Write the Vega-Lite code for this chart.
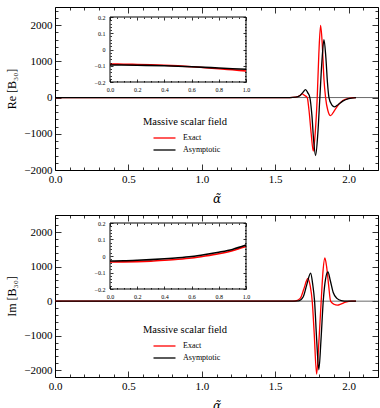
{
  "$schema": "https://vega.github.io/schema/vega-lite/v6.json",
  "padding": {"left": 5, "top": 4, "right": 0, "bottom": 0},
  "spacing": 6,
  "config": {
    "font": "Liberation Serif",
    "view": {"stroke": "#000", "strokeWidth": 1},
    "axis": {"domain": false, "grid": false, "labelFont": "Liberation Serif", "titleFont": "Liberation Serif", "labelColor": "#000", "titleColor": "#000", "tickColor": "#000", "titleFontWeight": "normal", "labelFontSize": 11, "tickWidth": 0.8, "labelOverlap": false, "labelFlush": false},
    "legend": {"orient": "none", "legendX": 88, "legendY": 110, "padding": 0, "titleFont": "Liberation Serif", "titleFontSize": 10.5, "titleFontWeight": "normal", "titleColor": "#000", "titlePadding": 4, "labelFont": "Liberation Serif", "labelFontSize": 8, "labelColor": "#000", "symbolType": "M-2,0H2", "symbolSize": 121, "symbolStrokeWidth": 1.3, "symbolOffset": 15, "labelOffset": 12, "rowPadding": 1}
  },
  "resolve": {"scale": {"color": "independent"}},
  "datasets": {
    "re_main": [
      {"a": 0, "v": 0, "s": "Exact"}, {"a": 1.6, "v": 0, "s": "Exact"}, {"a": 1.64, "v": 10, "s": "Exact"}, {"a": 1.665, "v": 50, "s": "Exact"}, {"a": 1.684, "v": 100, "s": "Exact"}, {"a": 1.7, "v": 60, "s": "Exact"}, {"a": 1.718, "v": 0, "s": "Exact"}, {"a": 1.73, "v": -350, "s": "Exact"}, {"a": 1.745, "v": -1000, "s": "Exact"}, {"a": 1.759, "v": -1480, "s": "Exact"}, {"a": 1.772, "v": -1000, "s": "Exact"}, {"a": 1.786, "v": 0, "s": "Exact"}, {"a": 1.797, "v": 1200, "s": "Exact"}, {"a": 1.809, "v": 1990, "s": "Exact"}, {"a": 1.82, "v": 1500, "s": "Exact"}, {"a": 1.832, "v": 500, "s": "Exact"}, {"a": 1.843, "v": 0, "s": "Exact"}, {"a": 1.858, "v": -350, "s": "Exact"}, {"a": 1.877, "v": -500, "s": "Exact"}, {"a": 1.9, "v": -380, "s": "Exact"}, {"a": 1.93, "v": -200, "s": "Exact"}, {"a": 1.96, "v": -80, "s": "Exact"}, {"a": 2.0, "v": -20, "s": "Exact"}, {"a": 2.05, "v": 0, "s": "Exact"},
      {"a": 0, "v": 0, "s": "Asymptotic"}, {"a": 1.6, "v": 0, "s": "Asymptotic"}, {"a": 1.64, "v": 10, "s": "Asymptotic"}, {"a": 1.67, "v": 60, "s": "Asymptotic"}, {"a": 1.69, "v": 150, "s": "Asymptotic"}, {"a": 1.706, "v": 220, "s": "Asymptotic"}, {"a": 1.722, "v": 130, "s": "Asymptotic"}, {"a": 1.736, "v": 0, "s": "Asymptotic"}, {"a": 1.75, "v": -500, "s": "Asymptotic"}, {"a": 1.762, "v": -1200, "s": "Asymptotic"}, {"a": 1.775, "v": -1600, "s": "Asymptotic"}, {"a": 1.79, "v": -1000, "s": "Asymptotic"}, {"a": 1.804, "v": 0, "s": "Asymptotic"}, {"a": 1.818, "v": 1000, "s": "Asymptotic"}, {"a": 1.832, "v": 1600, "s": "Asymptotic"}, {"a": 1.845, "v": 1100, "s": "Asymptotic"}, {"a": 1.856, "v": 400, "s": "Asymptotic"}, {"a": 1.866, "v": 0, "s": "Asymptotic"}, {"a": 1.885, "v": -200, "s": "Asymptotic"}, {"a": 1.905, "v": -255, "s": "Asymptotic"}, {"a": 1.93, "v": -190, "s": "Asymptotic"}, {"a": 1.96, "v": -100, "s": "Asymptotic"}, {"a": 2.0, "v": -30, "s": "Asymptotic"}, {"a": 2.05, "v": 0, "s": "Asymptotic"}
    ],
    "im_main": [
      {"a": 0, "v": 0, "s": "Exact"}, {"a": 1.6, "v": 0, "s": "Exact"}, {"a": 1.64, "v": 10, "s": "Exact"}, {"a": 1.67, "v": 80, "s": "Exact"}, {"a": 1.695, "v": 350, "s": "Exact"}, {"a": 1.722, "v": 658, "s": "Exact"}, {"a": 1.738, "v": 450, "s": "Exact"}, {"a": 1.752, "v": 0, "s": "Exact"}, {"a": 1.765, "v": -900, "s": "Exact"}, {"a": 1.782, "v": -2116, "s": "Exact"}, {"a": 1.797, "v": -1200, "s": "Exact"}, {"a": 1.813, "v": 0, "s": "Exact"}, {"a": 1.826, "v": 900, "s": "Exact"}, {"a": 1.838, "v": 1255, "s": "Exact"}, {"a": 1.85, "v": 1000, "s": "Exact"}, {"a": 1.864, "v": 450, "s": "Exact"}, {"a": 1.877, "v": 0, "s": "Exact"}, {"a": 1.9, "v": -90, "s": "Exact"}, {"a": 1.923, "v": -116, "s": "Exact"}, {"a": 1.95, "v": -80, "s": "Exact"}, {"a": 1.98, "v": -30, "s": "Exact"}, {"a": 2.02, "v": 0, "s": "Exact"}, {"a": 2.05, "v": 0, "s": "Exact"},
      {"a": 0, "v": 0, "s": "Asymptotic"}, {"a": 1.6, "v": 0, "s": "Asymptotic"}, {"a": 1.66, "v": 10, "s": "Asymptotic"}, {"a": 1.69, "v": 120, "s": "Asymptotic"}, {"a": 1.715, "v": 480, "s": "Asymptotic"}, {"a": 1.741, "v": 815, "s": "Asymptotic"}, {"a": 1.755, "v": 500, "s": "Asymptotic"}, {"a": 1.768, "v": 0, "s": "Asymptotic"}, {"a": 1.782, "v": -1100, "s": "Asymptotic"}, {"a": 1.797, "v": -1990, "s": "Asymptotic"}, {"a": 1.812, "v": -1100, "s": "Asymptotic"}, {"a": 1.827, "v": 0, "s": "Asymptotic"}, {"a": 1.843, "v": 650, "s": "Asymptotic"}, {"a": 1.859, "v": 850, "s": "Asymptotic"}, {"a": 1.875, "v": 600, "s": "Asymptotic"}, {"a": 1.895, "v": 250, "s": "Asymptotic"}, {"a": 1.92, "v": 80, "s": "Asymptotic"}, {"a": 1.95, "v": 15, "s": "Asymptotic"}, {"a": 1.99, "v": 0, "s": "Asymptotic"}, {"a": 2.05, "v": 0, "s": "Asymptotic"}
    ],
    "re_inset": [
      {"a": 0, "v": -0.09, "s": "Exact"}, {"a": 0.1, "v": -0.0905, "s": "Exact"}, {"a": 0.2, "v": -0.092, "s": "Exact"}, {"a": 0.3, "v": -0.094, "s": "Exact"}, {"a": 0.4, "v": -0.097, "s": "Exact"}, {"a": 0.5, "v": -0.101, "s": "Exact"}, {"a": 0.6, "v": -0.106, "s": "Exact"}, {"a": 0.7, "v": -0.112, "s": "Exact"}, {"a": 0.8, "v": -0.118, "s": "Exact"}, {"a": 0.9, "v": -0.125, "s": "Exact"}, {"a": 1.0, "v": -0.132, "s": "Exact"},
      {"a": 0, "v": -0.095, "s": "Asymptotic"}, {"a": 0.2, "v": -0.097, "s": "Asymptotic"}, {"a": 0.4, "v": -0.1, "s": "Asymptotic"}, {"a": 0.6, "v": -0.106, "s": "Asymptotic"}, {"a": 0.8, "v": -0.114, "s": "Asymptotic"}, {"a": 1.0, "v": -0.122, "s": "Asymptotic"}
    ],
    "im_inset": [
      {"a": 0, "v": -0.036, "s": "Exact"}, {"a": 0.1, "v": -0.0355, "s": "Exact"}, {"a": 0.2, "v": -0.034, "s": "Exact"}, {"a": 0.3, "v": -0.031, "s": "Exact"}, {"a": 0.4, "v": -0.026, "s": "Exact"}, {"a": 0.5, "v": -0.02, "s": "Exact"}, {"a": 0.6, "v": -0.012, "s": "Exact"}, {"a": 0.7, "v": 0.0, "s": "Exact"}, {"a": 0.8, "v": 0.014, "s": "Exact"}, {"a": 0.9, "v": 0.032, "s": "Exact"}, {"a": 1.0, "v": 0.057, "s": "Exact"},
      {"a": 0, "v": -0.03, "s": "Asymptotic"}, {"a": 0.1, "v": -0.029, "s": "Asymptotic"}, {"a": 0.2, "v": -0.026, "s": "Asymptotic"}, {"a": 0.3, "v": -0.022, "s": "Asymptotic"}, {"a": 0.4, "v": -0.017, "s": "Asymptotic"}, {"a": 0.5, "v": -0.011, "s": "Asymptotic"}, {"a": 0.6, "v": -0.003, "s": "Asymptotic"}, {"a": 0.7, "v": 0.009, "s": "Asymptotic"}, {"a": 0.8, "v": 0.023, "s": "Asymptotic"}, {"a": 0.9, "v": 0.04, "s": "Asymptotic"}, {"a": 1.0, "v": 0.066, "s": "Asymptotic"}
    ],
    "frame": [{"x0": 0, "x1": 1, "y0": -0.2, "y1": 0.2}],
    "zero": [{"v": 0}],
    "anchor": [{"a": 0, "v": 0}]
  },
  "vconcat": [
    {
      "width": 323, "height": 163,
      "resolve": {"scale": {"x": "independent", "y": "independent"}},
      "layer": [
        {"data": {"name": "zero"}, "mark": {"type": "rule", "color": "#444", "strokeWidth": 0.8},
         "encoding": {"y": {"field": "v", "type": "quantitative", "scale": {"domain": [-2000, 2500], "nice": false}, "axis": null}}},
        {"data": {"name": "re_main"}, "mark": {"type": "line", "strokeWidth": 1.3, "interpolate": "monotone"},
         "encoding": {
           "x": {"field": "a", "type": "quantitative", "scale": {"domain": [0, 2.2], "nice": false, "zero": false},
             "axis": {"orient": "bottom", "values": [0,0.1,0.2,0.3,0.4,0.5,0.6,0.7,0.8,0.9,1,1.1,1.2,1.3,1.4,1.5,1.6,1.7,1.8,1.9,2,2.1,2.2], "format": ".1f",
               "labelExpr": "abs(datum.value*2 - round(datum.value*2)) < 1e-6 ? datum.label : ''",
               "tickSize": {"condition": {"test": "abs(datum.value*2 - round(datum.value*2)) < 1e-6", "value": -6}, "value": -3},
               "labelPadding": 9, "title": "α̃", "titleFont": "DejaVu Serif", "titleFontStyle": "italic", "titleFontSize": 12, "titlePadding": 6}},
           "y": {"field": "v", "type": "quantitative", "scale": {"domain": [-2000, 2500], "nice": false},
             "axis": {"orient": "left", "values": [-2000,-1800,-1600,-1400,-1200,-1000,-800,-600,-400,-200,0,200,400,600,800,1000,1200,1400,1600,1800,2000,2200,2400], "format": "d",
               "labelExpr": "datum.value % 1000 === 0 ? datum.label : ''",
               "tickSize": {"condition": {"test": "datum.value % 1000 === 0", "value": -6}, "value": -3},
               "labelPadding": 9, "title": "Re [B₃₀]", "titleFontSize": 12, "titlePadding": 5}},
           "color": {"field": "s", "type": "nominal", "scale": {"domain": ["Exact", "Asymptotic"], "range": ["#ff0000", "#000000"]}, "legend": {"title": "Massive scalar field"}}
         }},
        {"data": {"name": "anchor"}, "mark": {"type": "point", "opacity": 0},
         "encoding": {
           "x": {"field": "a", "type": "quantitative", "scale": {"domain": [0, 2.2], "nice": false, "zero": false},
             "axis": {"orient": "top", "labels": false, "title": null, "values": [0,0.1,0.2,0.3,0.4,0.5,0.6,0.7,0.8,0.9,1,1.1,1.2,1.3,1.4,1.5,1.6,1.7,1.8,1.9,2,2.1,2.2],
               "tickSize": {"condition": {"test": "abs(datum.value*2 - round(datum.value*2)) < 1e-6", "value": -6}, "value": -3}}},
           "y": {"field": "v", "type": "quantitative", "scale": {"domain": [-2000, 2500], "nice": false},
             "axis": {"orient": "right", "labels": false, "title": null, "values": [-2000,-1800,-1600,-1400,-1200,-1000,-800,-600,-400,-200,0,200,400,600,800,1000,1200,1400,1600,1800,2000,2200,2400],
               "tickSize": {"condition": {"test": "datum.value % 1000 === 0", "value": -6}, "value": -3}}}
         }},
        {"data": {"name": "frame"}, "mark": {"type": "rect", "filled": false, "color": "#000", "strokeWidth": 1},
         "encoding": {
           "x": {"field": "x0", "type": "quantitative", "scale": {"domain": [0, 1], "range": [55, 191], "nice": false, "zero": false},
             "axis": {"orient": "top", "offset": -10, "labels": false, "title": null, "zindex": 1, "values": [0,0.05,0.1,0.15,0.2,0.25,0.3,0.35,0.4,0.45,0.5,0.55,0.6,0.65,0.7,0.75,0.8,0.85,0.9,0.95,1],
               "tickSize": {"condition": {"test": "abs(datum.value*5 - round(datum.value*5)) < 1e-6", "value": -3}, "value": -1.5}}},
           "x2": {"field": "x1"},
           "y": {"field": "y0", "type": "quantitative", "scale": {"domain": [-0.2, 0.2], "range": [75, 10], "nice": false, "zero": false},
             "axis": {"orient": "right", "offset": -132, "labels": false, "title": null, "zindex": 1, "values": [-0.2,-0.18,-0.16,-0.14,-0.12,-0.1,-0.08,-0.06,-0.04,-0.02,0,0.02,0.04,0.06,0.08,0.1,0.12,0.14,0.16,0.18,0.2],
               "tickSize": {"condition": {"test": "abs(datum.value*10 - round(datum.value*10)) < 1e-6", "value": -3}, "value": -1.5}}},
           "y2": {"field": "y1"}
         }},
        {"data": {"name": "re_inset"}, "mark": {"type": "line", "strokeWidth": 1.6, "interpolate": "monotone"},
         "encoding": {
           "x": {"field": "a", "type": "quantitative", "scale": {"domain": [0, 1], "range": [55, 191], "nice": false, "zero": false},
             "axis": {"orient": "bottom", "offset": -88, "title": null, "zindex": 1, "labelFontSize": 6, "labelPadding": 7.5, "format": ".1f", "values": [0,0.05,0.1,0.15,0.2,0.25,0.3,0.35,0.4,0.45,0.5,0.55,0.6,0.65,0.7,0.75,0.8,0.85,0.9,0.95,1],
               "labelExpr": "abs(datum.value*5 - round(datum.value*5)) < 1e-6 ? datum.label : ''",
               "tickSize": {"condition": {"test": "abs(datum.value*5 - round(datum.value*5)) < 1e-6", "value": -3}, "value": -1.5}}},
           "y": {"field": "v", "type": "quantitative", "scale": {"domain": [-0.2, 0.2], "range": [75, 10], "nice": false, "zero": false},
             "axis": {"orient": "left", "offset": -55, "title": null, "zindex": 1, "labelFontSize": 6, "labelPadding": 8, "format": ".1~f", "values": [-0.2,-0.18,-0.16,-0.14,-0.12,-0.1,-0.08,-0.06,-0.04,-0.02,0,0.02,0.04,0.06,0.08,0.1,0.12,0.14,0.16,0.18,0.2],
               "labelExpr": "abs(datum.value*10 - round(datum.value*10)) < 1e-6 ? datum.label : ''",
               "tickSize": {"condition": {"test": "abs(datum.value*10 - round(datum.value*10)) < 1e-6", "value": -3}, "value": -1.5}}},
           "color": {"field": "s", "type": "nominal"}
         }}
      ]
    },
    {
      "width": 323, "height": 162,
      "resolve": {"scale": {"x": "independent", "y": "independent"}},
      "layer": [
        {"data": {"name": "zero"}, "mark": {"type": "rule", "color": "#444", "strokeWidth": 0.8},
         "encoding": {"y": {"field": "v", "type": "quantitative", "scale": {"domain": [-2200, 2500], "nice": false}, "axis": null}}},
        {"data": {"name": "im_main"}, "mark": {"type": "line", "strokeWidth": 1.3, "interpolate": "monotone"},
         "encoding": {
           "x": {"field": "a", "type": "quantitative", "scale": {"domain": [0, 2.2], "nice": false, "zero": false},
             "axis": {"orient": "bottom", "values": [0,0.1,0.2,0.3,0.4,0.5,0.6,0.7,0.8,0.9,1,1.1,1.2,1.3,1.4,1.5,1.6,1.7,1.8,1.9,2,2.1,2.2], "format": ".1f",
               "labelExpr": "abs(datum.value*2 - round(datum.value*2)) < 1e-6 ? datum.label : ''",
               "tickSize": {"condition": {"test": "abs(datum.value*2 - round(datum.value*2)) < 1e-6", "value": -6}, "value": -3},
               "labelPadding": 9, "title": "α̃", "titleFont": "DejaVu Serif", "titleFontStyle": "italic", "titleFontSize": 12, "titlePadding": 6}},
           "y": {"field": "v", "type": "quantitative", "scale": {"domain": [-2200, 2500], "nice": false},
             "axis": {"orient": "left", "values": [-2000,-1800,-1600,-1400,-1200,-1000,-800,-600,-400,-200,0,200,400,600,800,1000,1200,1400,1600,1800,2000,2200,2400], "format": "d",
               "labelExpr": "datum.value % 1000 === 0 ? datum.label : ''",
               "tickSize": {"condition": {"test": "datum.value % 1000 === 0", "value": -6}, "value": -3},
               "labelPadding": 9, "title": "Im [B₃₀]", "titleFontSize": 12, "titlePadding": 5}},
           "color": {"field": "s", "type": "nominal", "scale": {"domain": ["Exact", "Asymptotic"], "range": ["#ff0000", "#000000"]}, "legend": {"title": "Massive scalar field"}}
         }},
        {"data": {"name": "anchor"}, "mark": {"type": "point", "opacity": 0},
         "encoding": {
           "x": {"field": "a", "type": "quantitative", "scale": {"domain": [0, 2.2], "nice": false, "zero": false},
             "axis": {"orient": "top", "labels": false, "title": null, "values": [0,0.1,0.2,0.3,0.4,0.5,0.6,0.7,0.8,0.9,1,1.1,1.2,1.3,1.4,1.5,1.6,1.7,1.8,1.9,2,2.1,2.2],
               "tickSize": {"condition": {"test": "abs(datum.value*2 - round(datum.value*2)) < 1e-6", "value": -6}, "value": -3}}},
           "y": {"field": "v", "type": "quantitative", "scale": {"domain": [-2200, 2500], "nice": false},
             "axis": {"orient": "right", "labels": false, "title": null, "values": [-2000,-1800,-1600,-1400,-1200,-1000,-800,-600,-400,-200,0,200,400,600,800,1000,1200,1400,1600,1800,2000,2200,2400],
               "tickSize": {"condition": {"test": "datum.value % 1000 === 0", "value": -6}, "value": -3}}}
         }},
        {"data": {"name": "frame"}, "mark": {"type": "rect", "filled": false, "color": "#000", "strokeWidth": 1},
         "encoding": {
           "x": {"field": "x0", "type": "quantitative", "scale": {"domain": [0, 1], "range": [55, 191], "nice": false, "zero": false},
             "axis": {"orient": "top", "offset": -8, "labels": false, "title": null, "zindex": 1, "values": [0,0.05,0.1,0.15,0.2,0.25,0.3,0.35,0.4,0.45,0.5,0.55,0.6,0.65,0.7,0.75,0.8,0.85,0.9,0.95,1],
               "tickSize": {"condition": {"test": "abs(datum.value*5 - round(datum.value*5)) < 1e-6", "value": -3}, "value": -1.5}}},
           "x2": {"field": "x1"},
           "y": {"field": "y0", "type": "quantitative", "scale": {"domain": [-0.2, 0.2], "range": [74, 8], "nice": false, "zero": false},
             "axis": {"orient": "right", "offset": -132, "labels": false, "title": null, "zindex": 1, "values": [-0.2,-0.18,-0.16,-0.14,-0.12,-0.1,-0.08,-0.06,-0.04,-0.02,0,0.02,0.04,0.06,0.08,0.1,0.12,0.14,0.16,0.18,0.2],
               "tickSize": {"condition": {"test": "abs(datum.value*10 - round(datum.value*10)) < 1e-6", "value": -3}, "value": -1.5}}},
           "y2": {"field": "y1"}
         }},
        {"data": {"name": "im_inset"}, "mark": {"type": "line", "strokeWidth": 1.6, "interpolate": "monotone"},
         "encoding": {
           "x": {"field": "a", "type": "quantitative", "scale": {"domain": [0, 1], "range": [55, 191], "nice": false, "zero": false},
             "axis": {"orient": "bottom", "offset": -88, "title": null, "zindex": 1, "labelFontSize": 6, "labelPadding": 7.5, "format": ".1f", "values": [0,0.05,0.1,0.15,0.2,0.25,0.3,0.35,0.4,0.45,0.5,0.55,0.6,0.65,0.7,0.75,0.8,0.85,0.9,0.95,1],
               "labelExpr": "abs(datum.value*5 - round(datum.value*5)) < 1e-6 ? datum.label : ''",
               "tickSize": {"condition": {"test": "abs(datum.value*5 - round(datum.value*5)) < 1e-6", "value": -3}, "value": -1.5}}},
           "y": {"field": "v", "type": "quantitative", "scale": {"domain": [-0.2, 0.2], "range": [74, 8], "nice": false, "zero": false},
             "axis": {"orient": "left", "offset": -55, "title": null, "zindex": 1, "labelFontSize": 6, "labelPadding": 8, "format": ".1~f", "values": [-0.2,-0.18,-0.16,-0.14,-0.12,-0.1,-0.08,-0.06,-0.04,-0.02,0,0.02,0.04,0.06,0.08,0.1,0.12,0.14,0.16,0.18,0.2],
               "labelExpr": "abs(datum.value*10 - round(datum.value*10)) < 1e-6 ? datum.label : ''",
               "tickSize": {"condition": {"test": "abs(datum.value*10 - round(datum.value*10)) < 1e-6", "value": -3}, "value": -1.5}}},
           "color": {"field": "s", "type": "nominal"}
         }}
      ]
    }
  ]
}
